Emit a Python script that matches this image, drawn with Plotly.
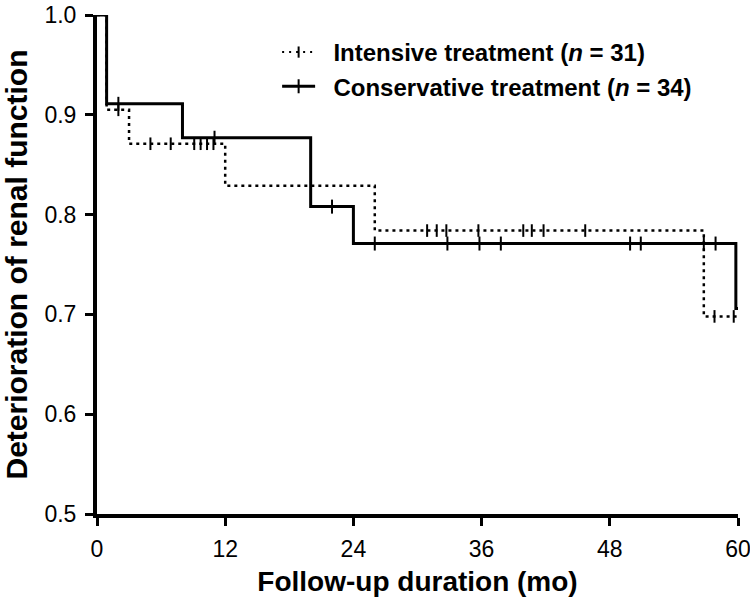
import plotly.graph_objects as go

# Step-curve data (months, cumulative proportion)
intensive_t = [0, 0.9, 3, 12, 26, 56.8, 60]
intensive_s = [1.0, 0.905, 0.871, 0.829, 0.784, 0.698, 0.698]
intensive_cens = [2, 5, 6.9, 9.1, 9.7, 10.3, 10.9, 30.9, 31.8, 32.7, 35.7,
                  39.9, 40.7, 41.8, 45.7, 57.8, 59.6]

conservative_t = [0, 0.9, 8, 20, 24, 59.8, 60]
conservative_s = [1.0, 0.911, 0.877, 0.808, 0.771, 0.706, 0.706]
conservative_cens = [2, 11, 22, 26, 32.8, 35.8, 37.8, 49.9, 50.9, 56.8, 57.9]

x_ticks = [0, 12, 24, 36, 48, 60]
y_ticks = [0.5, 0.6, 0.7, 0.8, 0.9, 1.0]

FONT = "Arial, Liberation Sans, sans-serif"


def step_value(ts, ss, t):
    v = ss[0]
    for ti, si in zip(ts, ss):
        if ti <= t:
            v = si
    return v


fig = go.Figure()

dot_dash = "3px,4px"

fig.add_trace(go.Scatter(
    x=intensive_t, y=intensive_s, mode="lines", line_shape="hv",
    line=dict(color="black", width=2.5, dash=dot_dash),
    showlegend=False, cliponaxis=False, hoverinfo="skip"))
fig.add_trace(go.Scatter(
    x=intensive_cens, y=[step_value(intensive_t, intensive_s, t) for t in intensive_cens],
    mode="markers", marker=dict(symbol="line-ns", size=9, line=dict(color="black", width=2)),
    showlegend=False, cliponaxis=False))

fig.add_trace(go.Scatter(
    x=conservative_t, y=conservative_s, mode="lines", line_shape="hv",
    line=dict(color="black", width=3),
    showlegend=False, cliponaxis=False, hoverinfo="skip"))
fig.add_trace(go.Scatter(
    x=conservative_cens, y=[step_value(conservative_t, conservative_s, t) for t in conservative_cens],
    mode="markers", marker=dict(symbol="line-ns", size=10, line=dict(color="black", width=2)),
    showlegend=False, cliponaxis=False))

# legend entries
fig.add_trace(go.Scatter(
    x=[None], y=[None], mode="lines+markers",
    name="&nbsp;&nbsp;Intensive treatment (<i>n</i> = 31)",
    line=dict(color="black", width=2, dash="2px,5px"),
    marker=dict(symbol="line-ns", size=8, line=dict(color="black", width=2))))
fig.add_trace(go.Scatter(
    x=[None], y=[None], mode="lines+markers",
    name="&nbsp;&nbsp;Conservative treatment (<i>n</i> = 34)",
    line=dict(color="black", width=3),
    marker=dict(symbol="line-ns", size=10, line=dict(color="black", width=2))))

fig.update_layout(
    width=750, height=602,
    margin=dict(l=97, r=12, t=15, b=88, autoexpand=False),
    paper_bgcolor="white", plot_bgcolor="white",
    font=dict(family=FONT, color="black"),
    showlegend=True,
    legend=dict(x=0.281, y=0.97, xanchor="left", yanchor="top",
                font=dict(size=24, family=FONT, weight="bold"),
                itemwidth=33,
                bgcolor="rgba(0,0,0,0)", tracegroupgap=0),
    xaxis=dict(range=[0, 60], tickvals=x_ticks, showgrid=False, zeroline=False,
               automargin=False, ticklabeloverflow="allow",
               showline=True, linecolor="black", linewidth=4,
               ticks="outside", ticklen=8, tickwidth=3, tickcolor="black",
               ticklabelstandoff=3,
               tickfont=dict(size=23, family=FONT),
               title=dict(text="Follow-up duration (mo)", standoff=12,
                          font=dict(size=28, family=FONT, weight="bold"))),
    yaxis=dict(range=[0.5, 1.0], tickvals=y_ticks, tickformat=".1f",
               showgrid=False, zeroline=False, automargin=False,
               ticklabeloverflow="allow",
               showline=True, linecolor="black", linewidth=4,
               ticks="outside", ticklen=8, tickwidth=3, tickcolor="black",
               ticklabelstandoff=4,
               tickfont=dict(size=23, family=FONT),
               title=dict(text="Deterioration of renal function", standoff=28,
                          font=dict(size=30, family=FONT, weight="bold"))),
)

fig.write_html("out.html", config={"displayModeBar": False},
               post_script="document.body.style.margin='0';")
